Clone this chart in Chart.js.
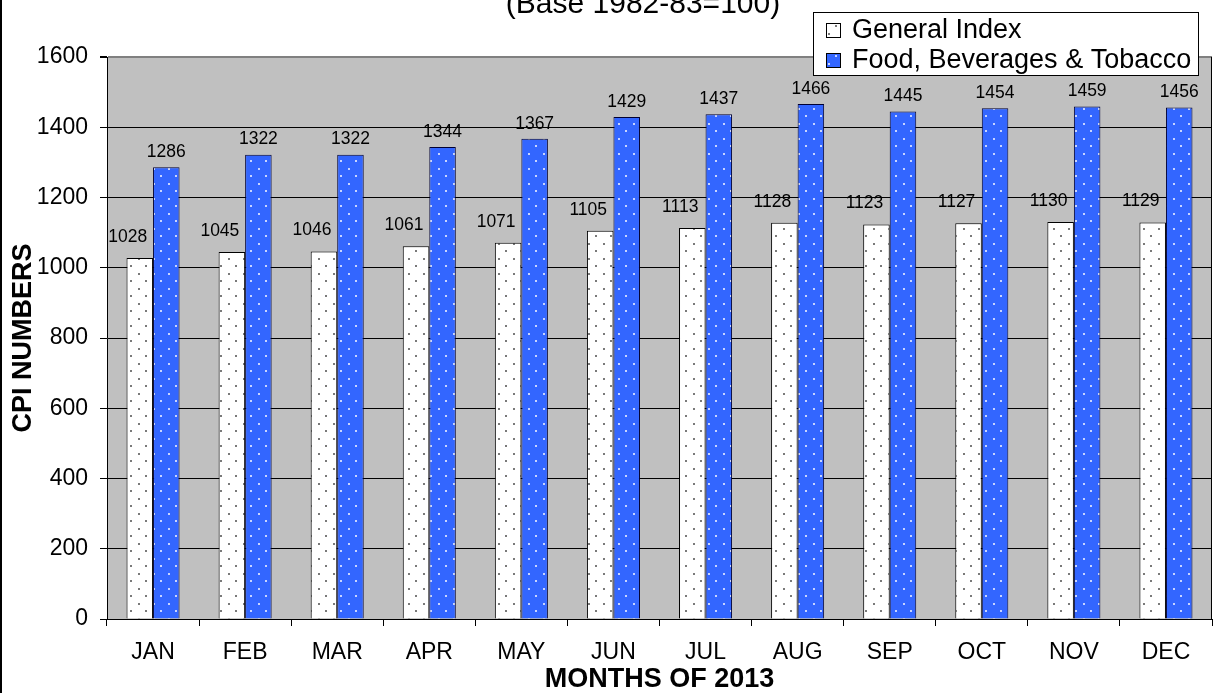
<!DOCTYPE html>
<html>
<head>
<meta charset="utf-8">
<script src="https://cdn.jsdelivr.net/npm/chart.js@4.4.1/dist/chart.umd.min.js"></script>
<style>
  html, body { margin: 0; padding: 0; background: #fff; }
  #wrap { width: 1214px; height: 693px; position: relative; }
</style>
</head>
<body>
<div id="wrap"><canvas id="cpiChart" width="1214" height="693"></canvas></div>
<script>
const months = ['JAN', 'FEB', 'MAR', 'APR', 'MAY', 'JUN', 'JUL', 'AUG', 'SEP', 'OCT', 'NOV', 'DEC'];
const generalIndex = [1028, 1045, 1046, 1061, 1071, 1105, 1113, 1128, 1123, 1127, 1130, 1129];
const foodBevTobacco = [1286, 1322, 1322, 1344, 1367, 1429, 1437, 1466, 1445, 1454, 1459, 1456];
const seriesNames = ['General Index', 'Food, Beverages & Tobacco'];
const yTicks = [0, 200, 400, 600, 800, 1000, 1200, 1400, 1600];

const FONT = '"Liberation Sans", Arial, sans-serif';

// sparse staggered dots, like the old excel fill pattern
function dotPattern(base, dot) {
  const c = document.createElement('canvas');
  c.width = 15; c.height = 15;
  const g = c.getContext('2d');
  g.fillStyle = base;
  g.fillRect(0, 0, 15, 15);
  g.fillStyle = dot;
  g.fillRect(3, 3, 2, 2);
  g.fillRect(10, 10, 2, 2);
  return g.createPattern(c, 'repeat');
}
const whiteFill = dotPattern('#ffffff', '#7a7a7a');
const blueFill = dotPattern('#3366ff', '#c8d4ff');

const chartFrame = {
  id: 'chartFrame',
  beforeDraw(chart) {
    const { ctx, chartArea: a } = chart;
    ctx.save();
    ctx.fillStyle = '#c0c0c0';
    ctx.fillRect(a.left, a.top, a.right - a.left, a.bottom - a.top);
    ctx.restore();
  },
  afterDraw(chart) {
    const { ctx, chartArea: a } = chart;
    ctx.save();
    // outer frame, only the left edge shows
    ctx.fillStyle = '#000';
    ctx.fillRect(0, 0, 2, chart.height);
    // plot right edge
    ctx.strokeStyle = '#000';
    ctx.lineWidth = 1;
    ctx.beginPath();
    ctx.moveTo(a.right - 0.5, a.top);
    ctx.lineTo(a.right - 0.5, a.bottom);
    ctx.stroke();

    // title (its first line is cut off in the original)
    ctx.fillStyle = '#000';
    ctx.font = '30px ' + FONT;
    ctx.textAlign = 'center';
    ctx.textBaseline = 'alphabetic';
    ctx.fillText('(Base 1982-83=100)', 643, 13);

    // legend box overlapping the plot
    const lx = 813, ly = 12, lw = 386, lh = 64;
    ctx.fillStyle = '#fff';
    ctx.fillRect(lx, ly, lw, lh);
    ctx.strokeStyle = '#000';
    ctx.strokeRect(lx + 0.5, ly + 0.5, lw - 1, lh - 1);
    ctx.font = '27px ' + FONT;
    ctx.textAlign = 'left';
    ctx.textBaseline = 'middle';
    chart.data.datasets.forEach((ds, i) => {
      const cy = ly + 18 + i * 30;
      ctx.fillStyle = ds.backgroundColor;
      ctx.fillRect(826, cy - 7, 15, 15);
      ctx.strokeStyle = '#000';
      ctx.strokeRect(826.5, cy - 6.5, 14, 14);
      ctx.fillStyle = '#000';
      ctx.fillText(ds.label, 852, cy + 1);
    });
    ctx.restore();
  },
  afterDatasetsDraw(chart) {
    const { ctx } = chart;
    ctx.save();
    ctx.font = '17.5px ' + FONT;
    ctx.fillStyle = '#000';
    ctx.textAlign = 'center';
    ctx.textBaseline = 'middle';
    chart.data.datasets.forEach((ds, i) => {
      const meta = chart.getDatasetMeta(i);
      meta.data.forEach((bar, j) => {
        if (i === 0) ctx.fillText(ds.data[j], bar.x - 12, bar.y - 21);
        else ctx.fillText(ds.data[j], bar.x, bar.y - 15);
      });
    });
    ctx.restore();
  }
};

new Chart(document.getElementById('cpiChart'), {
  type: 'bar',
  data: {
    labels: months,
    datasets: [
      {
        label: seriesNames[0],
        data: generalIndex,
        backgroundColor: whiteFill,
        borderColor: '#000',
        borderWidth: 1
      },
      {
        label: seriesNames[1],
        data: foodBevTobacco,
        backgroundColor: blueFill,
        borderColor: '#000033',
        borderWidth: 1
      }
    ]
  },
  options: {
    responsive: false,
    animation: false,
    devicePixelRatio: 1,
    categoryPercentage: 0.576,
    barPercentage: 1,
    layout: { padding: { left: 10, top: 57, right: 2, bottom: 0 } },
    plugins: {
      legend: { display: false },
      title: { display: false },
      tooltip: { enabled: false }
    },
    scales: {
      x: {
        afterFit: s => { s.height = 74; },
        grid: {
          offset: true,
          drawOnChartArea: false,
          color: '#000',
          tickLength: 7
        },
        border: { color: '#000', width: 1 },
        ticks: { color: '#000', font: { family: FONT, size: 23 }, padding: 13, maxRotation: 0 },
        title: {
          display: true,
          text: 'MONTHS OF 2013',
          color: '#000',
          font: { family: FONT, size: 27, weight: 'bold', lineHeight: 1 },
          padding: { top: 0, bottom: 0 }
        }
      },
      y: {
        min: 0,
        max: 1600,
        afterFit: s => { s.width = 97; },
        afterBuildTicks: s => { s.ticks = yTicks.map(v => ({ value: v })); },
        grid: {
          color: c => (c.tick && c.tick.value === 1600 ? '#808080' : '#000'),
          lineWidth: c => (c.tick && c.tick.value === 1600 ? 2 : 1),
          tickColor: '#000',
          tickLength: 7
        },
        border: { color: '#000', width: 1 },
        ticks: {
          color: '#000',
          font: { family: FONT, size: 23 },
          padding: 12,
          callback: v => String(v)
        },
        title: {
          display: true,
          text: 'CPI NUMBERS',
          color: '#000',
          font: { family: FONT, size: 27, weight: 'bold', lineHeight: 1 },
          padding: { top: 0, bottom: 0 }
        }
      }
    }
  },
  plugins: [chartFrame]
});
</script>
</body>
</html>
